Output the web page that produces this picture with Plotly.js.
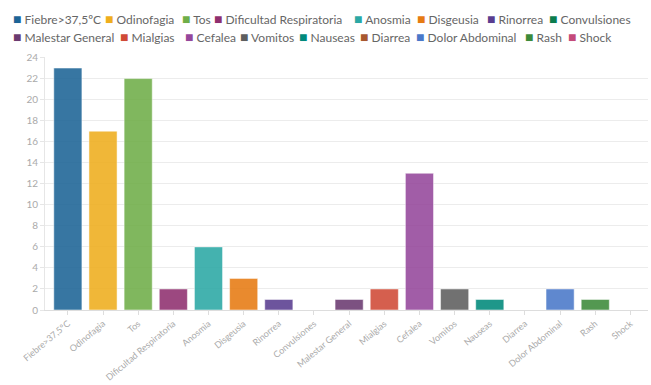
<!DOCTYPE html>
<html><head><meta charset="utf-8">
<script src="https://cdn.plot.ly/plotly-3.0.1.min.js"></script>
<style>body{margin:0;padding:0;background:#fff}#chart{width:651px;height:385px}</style>
</head><body><div id="chart"></div>
<script>
const categories = ["Fiebre>37,5ºC","Odinofagia","Tos","Dificultad Respiratoria","Anosmia","Disgeusia","Rinorrea","Convulsiones","Malestar General","Mialgias","Cefalea","Vomitos","Nauseas","Diarrea","Dolor Abdominal","Rash","Shock"];
const values = [23,17,22,2,6,3,1,0,1,2,13,2,1,0,2,1,0];
const colors = ["#1c6496","#efae1d","#6fae48","#8f2f6f","#2ba8a5","#e67b12","#5a3d90","#0b7d4e","#6b3a70","#d04a36","#95479b","#5e5e5e","#00897b","#a8582f","#4a78c9","#3c8a3a","#c44a7a"];
const yTicks = [0,2,4,6,8,10,12,14,16,18,20,22,24];

// legend entry placement (pixels in the 651x385 picture): [x, y]
const legendPos = [[11,19],[103,19],[180,19],[212,19],[352,19],[415,19],[485,19],[547,19],
                   [11,36],[118,36],[183,36],[238,36],[297,36],[358,36],[414,36],[523,36],[566,36]];

const M = {l: 45, r: 3, t: 57, b: 75};
const W = 651, H = 385;
const pw = W - M.l - M.r, ph = H - M.t - M.b;

const trace = {
  type: "bar",
  x: categories,
  y: values,
  marker: {color: colors, opacity: 0.88, line: {color: "rgba(255,255,255,0.5)", width: 1}},
  hoverinfo: "x+y"
};

const annotations = categories.map((c, i) => ({
  xref: "paper", yref: "paper",
  x: (legendPos[i][0] - M.l) / pw,
  y: (H - M.b - legendPos[i][1]) / ph,
  xanchor: "left", yanchor: "middle", showarrow: false,
  text: '<span style="color:' + colors[i] + ';font-size:14px">■</span> ' + c,
  font: {family: "Lato, sans-serif", size: 12, color: "#666"}
}));

const layout = {
  width: W, height: H,
  margin: M,
  paper_bgcolor: "#fff", plot_bgcolor: "#fff",
  showlegend: false,
  bargap: 0.2,
  font: {family: "Lato, 'Open Sans', sans-serif", color: "#999"},
  xaxis: {
    type: "category",
    range: [-0.65, 16.5],
    tickangle: -40,
    tickfont: {size: 9, color: "#aaa"},
    showline: true, linecolor: "#ddd", linewidth: 1,
    ticks: "outside", ticklen: 4, tickcolor: "#ddd",
    showgrid: false, fixedrange: true
  },
  yaxis: {
    range: [0, 24.05],
    tickvals: yTicks,
    tickfont: {size: 10, color: "#aaa"},
    showline: true, linecolor: "#e6e6e6", linewidth: 1,
    ticks: "outside", ticklen: 4, tickcolor: "#e6e6e6",
    gridcolor: "#ececec", gridwidth: 1,
    zeroline: false, fixedrange: true
  },
  annotations: annotations
};

Plotly.newPlot("chart", [trace], layout, {displayModeBar: false, staticPlot: true});
</script>
</body></html>
